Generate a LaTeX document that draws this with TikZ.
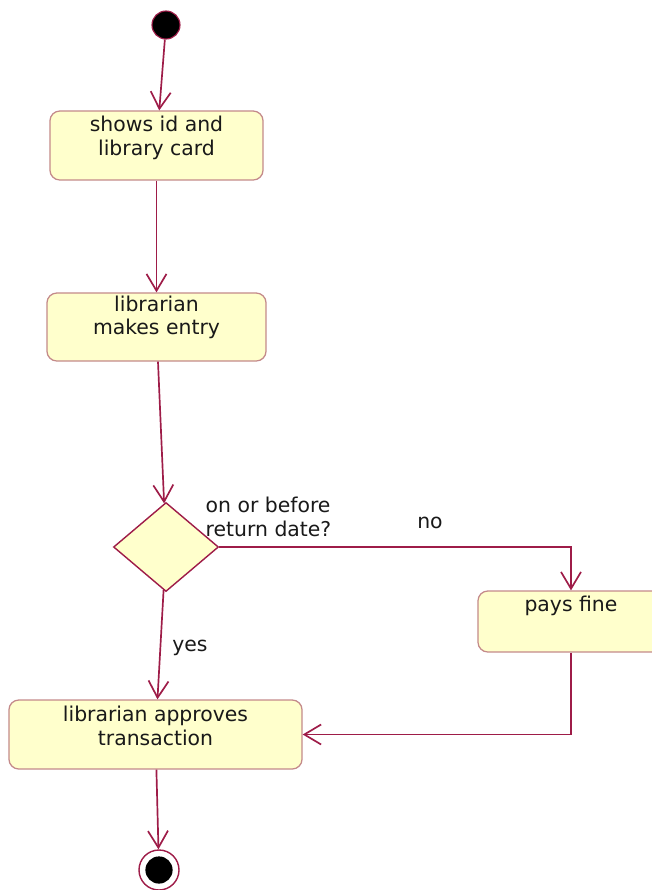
\documentclass[tikz,border=0pt]{standalone}
\usepackage{fontspec}
\setmainfont{DejaVu Sans}
\usepackage{tikz}
\usetikzlibrary{positioning, shapes.geometric, arrows.meta}
\definecolor{L1}{HTML}{9E1C48}
\definecolor{L2}{HTML}{C48A8A}
\definecolor{F1}{HTML}{FFFFCC}

\begin{document}
\begin{tikzpicture}[
	x=0.025cm, y=-0.025cm,
	font=\fontsize{14.5}{17}\selectfont, text=black!90,
	action/.style = {draw=L2, fill=F1, rectangle, rounded corners=7pt, line width=0.9pt},
	every label/.style = {align=center, inner sep=0pt},
	decision/.style = {draw=L1, fill=F1, diamond, inner sep=0pt, minimum width=2.625cm, minimum height=2.225cm, line width=1pt},
	startnode/.style = {draw=L1, fill=black, circle, minimum size=0.7cm, inner sep=0pt, thick},
	endnode/.style = {draw=L1, fill=white, circle, minimum size=1cm, inner sep=0pt, line width=1pt,
		path picture={\fill[black] (path picture bounding box.center) circle (0.34cm);}},
	guard/.style = {inner sep=1pt, align=left},
	every edge/.style={draw=L1, line width=1.2pt, -{Straight Barb[length=0.42cm, width=0.5cm, line width=1.2pt]}}
]
  \useasboundingbox (0,0) rectangle (652,890);
  % Define vertices
  \node[startnode] at (166, 25) (start) {};
  \node[action, minimum width=5.325cm, minimum height=1.725cm,
    label={[yshift=0.19cm]center:shows id and\\library card}] at (156.5, 145.5) (card) {};
  \node[action, minimum width=5.475cm, minimum height=1.7cm,
    label={[yshift=0.24cm]center:librarian\\makes entry}] at (156.5, 327) (entry) {};
  \node[decision] at (166, 547) (check) {};
  \node[action, minimum width=4.65cm, minimum height=1.525cm,
    label={[yshift=0.39cm]center:pays fine}] at (571, 621.5) (fine) {};
  \node[action, minimum width=7.325cm, minimum height=1.725cm,
    label={[yshift=0.21cm]center:librarian approves\\transaction}] at (155.5, 734.5) (approve) {};
  \node[endnode] at (159, 870) (stop) {};

  % Guards
  \node[guard, anchor=north west] at (204, 495) (ontime) {on or before\\return date?};
  \node[guard] at (430, 523) (nolabel) {no};
  \node[guard] at (190, 648) (yeslabel) {yes};

  \draw (start) edge (card);
  \draw (card) edge (entry);
  \draw (entry) edge (check);
  \draw (check) edge (approve);
  \draw (approve) edge (stop);
  \draw (check.east) edge[to path={-| (\tikztotarget)}] (fine.north);
  \draw (fine.south) edge[to path={|- (\tikztotarget)}] (approve.east);
\end{tikzpicture}
\end{document}
